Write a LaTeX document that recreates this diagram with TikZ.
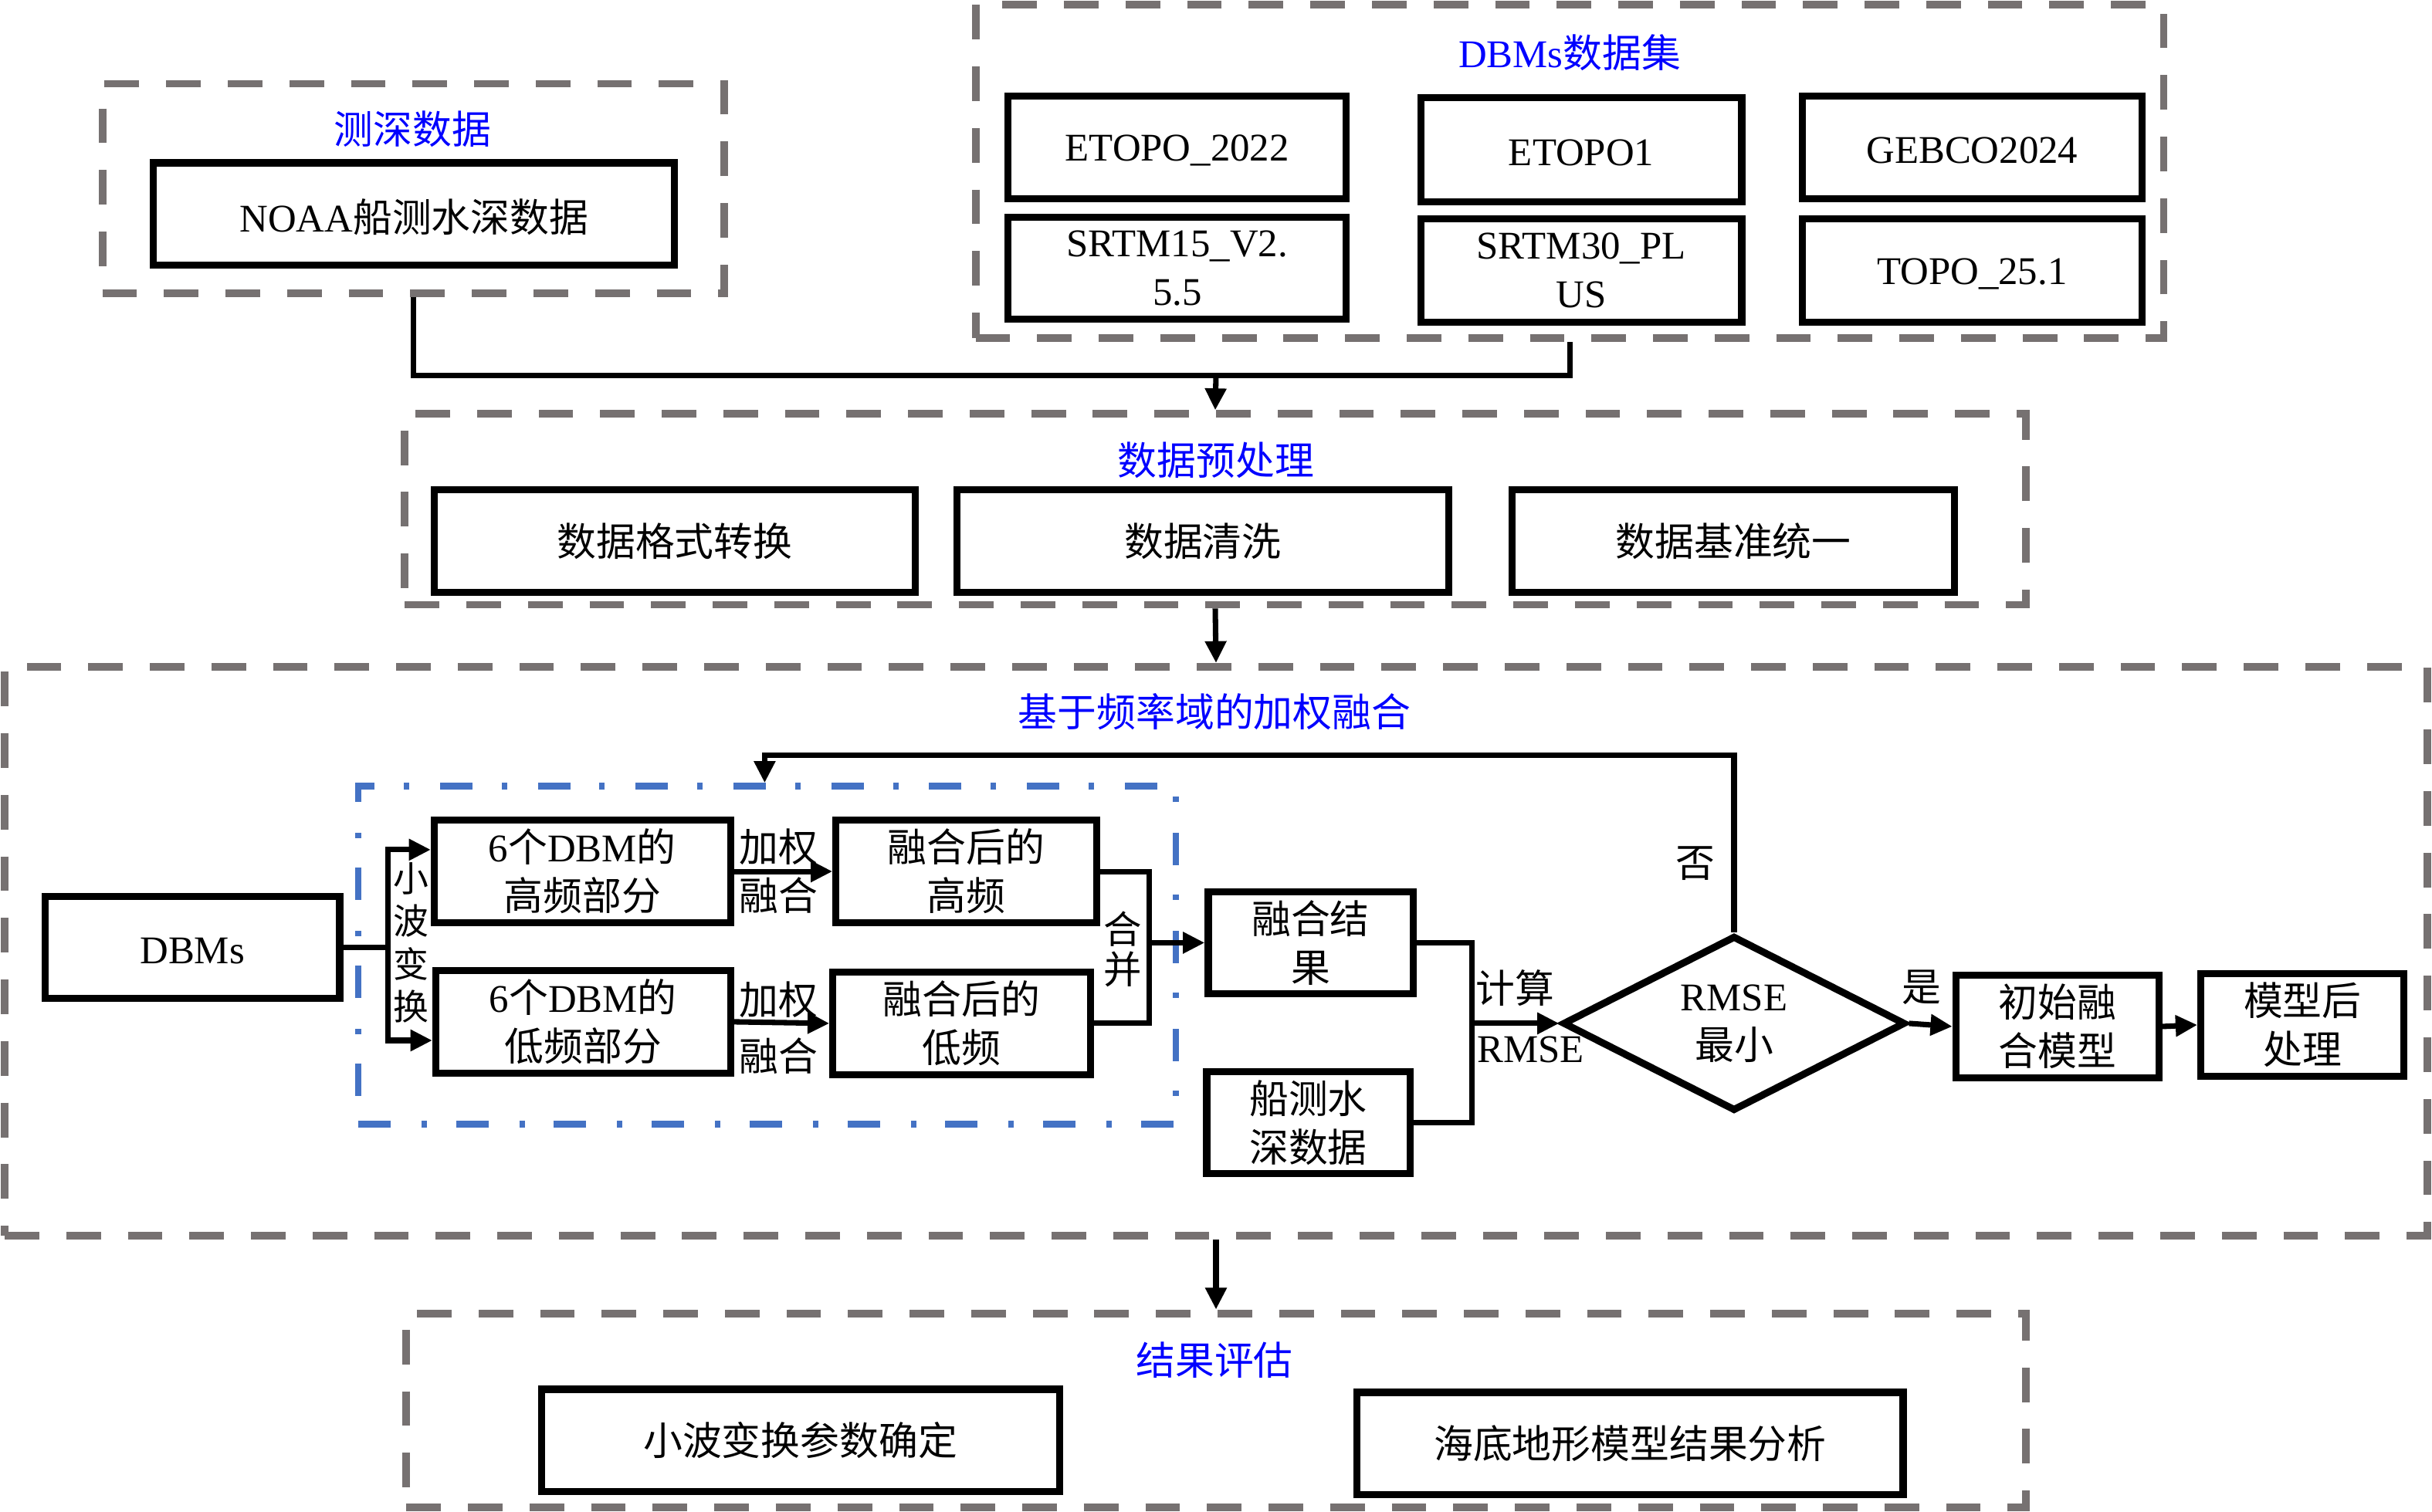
\documentclass[tikz,border=0pt]{standalone}
\usepackage{fontspec}
\setmainfont{Liberation Serif}
\newfontfamily\cjk{Noto Sans CJK SC}
\newcommand\en[1]{{\rmfamily #1}}
\usetikzlibrary{arrows.meta,fit,shapes.geometric}
\definecolor{dgray}{RGB}{118,113,113}
\definecolor{ttlblue}{RGB}{0,0,255}
\definecolor{dblue}{RGB}{68,114,196}
\newcommand\mybox[4][]{\node[box, fit={#3}] (#2) {}; \node[lbl,#1] (#2t) at (#2) {#4};}
\begin{document}
\begin{tikzpicture}[x=0.02cm,y=-0.02cm,
  txt/.style={font=\cjk\fontsize{14.4}{17.8}\selectfont, align=center},
  box/.style={draw=black, line width=2.6pt, inner sep=0pt},
  grp/.style={draw=dgray, line width=2.8pt, dash pattern=on 12.7pt off 9.9pt, inner sep=0pt},
  ttl/.style={txt, text=ttlblue, inner sep=0pt},
  lbl/.style={txt, inner sep=0pt},
  low/.style={yshift=-1.2pt},
  conn/.style={line width=2pt},
  arr/.style={conn, -{Triangle[length=8pt,width=7.5pt]}},
]
\useasboundingbox (0,0) rectangle (1568,975);

% --- bathymetry group
\node[grp, fit={(66,54)(467,189)}] (g1) {};
\node[ttl] (t1) at (266,83) {测深数据};
\mybox[low]{noaa}{(99,105)(435,171)}{\en{NOAA}船测水深数据}

% --- DBMs group
\node[grp, fit={(629,3)(1395,218)}] (g2) {};
\node[ttl] (t2) at (1012,34) {\en{DBMs}数据集};
\mybox[low]{e1}{(650,62)(868,128)}{\en{ETOPO\_2022}}
\mybox{e2}{(650,140)(868,206)}{\en{SRTM15\_V2.}\\\en{5.5}}
\mybox[low]{e3}{(916,63)(1123,130)}{\en{ETOPO1}}
\mybox{e4}{(916,141)(1123,208)}{\en{SRTM30\_PL}\\\en{US}}
\mybox[low]{e5}{(1162,62)(1381,128)}{\en{GEBCO2024}}
\mybox[low]{e6}{(1162,141)(1381,208)}{\en{TOPO\_25.1}}

\coordinate (j) at (784,242);
\draw[conn] (g1.south) |- (j) -| (g2.south);

% --- preprocessing group
\node[grp, fit={(261,267)(1306,390)}] (g3) {};
\node[ttl] (t3) at (784,297) {数据预处理};
\mybox{p1}{(280,316)(590,382)}{数据格式转换}
\mybox{p2}{(617,316)(934,382)}{数据清洗}
\mybox{p3}{(975,316)(1260,382)}{数据基准统一}
\draw[arr] (j) -- (g3.north);

% --- fusion group
\node[grp, fit={(3,430)(1565,797)}] (g4) {};
\node[ttl] (t4) at (783,459) {基于频率域的加权融合};
\draw[arr] (g3.south) -- (g4.north);

\node[draw=dblue, line width=2.4pt, dash pattern=on 11.9pt off 11.3pt on 2pt off 10.7pt,
      inner sep=0pt, fit={(231,507)(758,725)}] (wb) {};

\mybox[low]{dbms}{(29,578)(219,644)}{\en{DBMs}}
\mybox{hf}{(280,529)(471,595)}{\en{6}个\en{DBM}的\\高频部分}
\mybox{lf}{(281,626)(471,692)}{\en{6}个\en{DBM}的\\低频部分}
\mybox{fhf}{(539,529)(707,595)}{融合后的\\高频}
\mybox{flf}{(537,627)(703,693)}{融合后的\\低频}

\coordinate (s1) at (250,548);
\coordinate (s2) at (250,671);
\draw[conn] (dbms.east) -- (dbms.east -| s1);
\draw[conn, line cap=rect] (s1) -- (s2);
\draw[arr] (s1) -- (hf.west |- s1);
\draw[arr] (s2) -- (lf.west |- s2);
\node[lbl, font=\cjk\fontsize{13}{15.7}\selectfont] (wt) at (265,608) {小\\波\\变\\换};

\draw[arr] (hf.east) -- (fhf.west);
\draw[arr] (lf.east) -- (flf.west);
\node[lbl] (w1) at (502,562) {加权\\融合};
\node[lbl] (w2) at (502,663) {加权\\[3pt]融合};

\coordinate (m) at (741,608);
\draw[conn] (fhf.east) -| (m) |- (flf.east);
\node[lbl, font=\cjk\fontsize{14}{14.8}\selectfont] (hb) at (724,612) {合\\并};

\mybox{res}{(779,575)(911,641)}{融合结\\果}
\mybox{ship}{(778,691)(909,757)}{船测水\\深数据}
\draw[arr] (m) -- (res.west);

\coordinate (k) at (949,660);
\draw[conn] (res.east) -| (k) |- (ship.east);

\node[draw=black, line width=2.6pt, shape=diamond, inner sep=0pt,
      minimum width=4.42cm, minimum height=2.26cm] (dia) at (1118,660) {};
\node[lbl] (diat) at (dia) {\en{RMSE}\\最小};
\draw[arr] (k) -- (dia.west);
\node[lbl] (js) at (977,637) {计算};
\node[lbl] (rm) at (987,677) {\en{RMSE}};

\coordinate (lp) at (493,487);
\draw[arr] (dia.north) |- (lp) -- (lp |- wb.north);
\node[lbl] (no) at (1093,557) {否};

\mybox{init}{(1261,629)(1392,695)}{初始融\\合模型}
\mybox{post}{(1419,628)(1550,694)}{模型后\\处理}
\node[lbl] (yes) at (1239,637) {是};
\draw[arr] (dia.east) -- (init.west);
\draw[arr] (init.east) -- (post.west);

% --- evaluation group
\node[grp, fit={(262,847)(1306,972)}] (g5) {};
\node[ttl] (t5) at (783,877) {结果评估};
\mybox{r1}{(349,896)(683,962)}{小波变换参数确定}
\mybox{r2}{(875,898)(1227,964)}{海底地形模型结果分析}
\draw[arr] (g4.south) -- (g5.north);
\end{tikzpicture}
\end{document}
